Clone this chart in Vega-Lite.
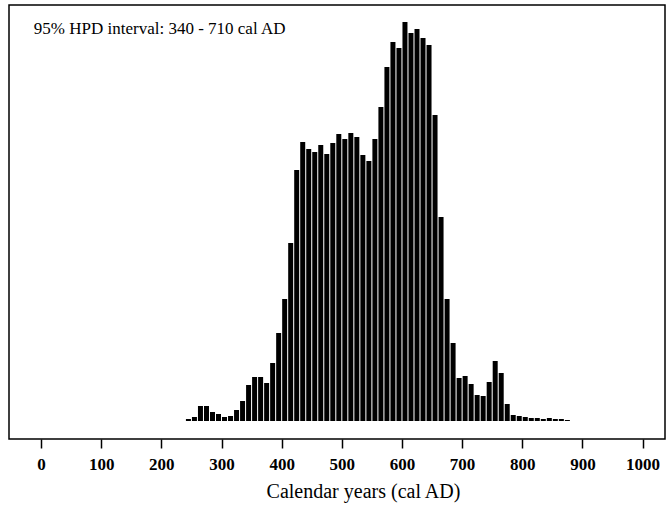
{
  "$schema": "https://vega.github.io/schema/vega-lite/v6.json",
  "width": 656,
  "height": 434,
  "autosize": "none",
  "padding": {"left": 9, "top": 5, "right": 6, "bottom": 72},
  "background": "white",
  "config": {
    "view": {"stroke": "black", "strokeWidth": 1.5},
    "font": "Liberation Serif"
  },
  "datasets": {
    "bins": [
      {"year": 245, "count": 2}, {"year": 255, "count": 4}, {"year": 265, "count": 15},
      {"year": 275, "count": 15}, {"year": 285, "count": 9}, {"year": 295, "count": 7},
      {"year": 305, "count": 4}, {"year": 315, "count": 5}, {"year": 325, "count": 11},
      {"year": 335, "count": 20}, {"year": 345, "count": 36}, {"year": 355, "count": 44},
      {"year": 365, "count": 44}, {"year": 375, "count": 38}, {"year": 385, "count": 58},
      {"year": 395, "count": 88}, {"year": 405, "count": 122}, {"year": 415, "count": 178},
      {"year": 425, "count": 251}, {"year": 435, "count": 279}, {"year": 445, "count": 272},
      {"year": 455, "count": 269}, {"year": 465, "count": 276}, {"year": 475, "count": 267},
      {"year": 485, "count": 278}, {"year": 495, "count": 287}, {"year": 505, "count": 282},
      {"year": 515, "count": 288}, {"year": 525, "count": 284}, {"year": 535, "count": 266},
      {"year": 545, "count": 260}, {"year": 555, "count": 282}, {"year": 565, "count": 314},
      {"year": 575, "count": 354}, {"year": 585, "count": 379}, {"year": 595, "count": 373},
      {"year": 605, "count": 399}, {"year": 615, "count": 388}, {"year": 625, "count": 392},
      {"year": 635, "count": 383}, {"year": 645, "count": 376}, {"year": 655, "count": 306},
      {"year": 665, "count": 204}, {"year": 675, "count": 122}, {"year": 685, "count": 78},
      {"year": 695, "count": 43}, {"year": 705, "count": 45}, {"year": 715, "count": 37},
      {"year": 725, "count": 26}, {"year": 735, "count": 25}, {"year": 745, "count": 39},
      {"year": 755, "count": 60}, {"year": 765, "count": 48}, {"year": 775, "count": 17},
      {"year": 785, "count": 6}, {"year": 795, "count": 5}, {"year": 805, "count": 4},
      {"year": 815, "count": 3}, {"year": 825, "count": 3}, {"year": 835, "count": 2},
      {"year": 845, "count": 3}, {"year": 855, "count": 2}, {"year": 865, "count": 2},
      {"year": 875, "count": 1}
    ],
    "note": [{"label": "95% HPD interval: 340 - 710 cal AD"}]
  },
  "layer": [
    {
      "data": {"name": "bins"},
      "mark": {"type": "bar", "size": 5, "color": "black"},
      "encoding": {
        "x": {
          "field": "year",
          "type": "quantitative",
          "scale": {"domain": [-45, 1029], "nice": false, "zero": false},
          "axis": {
            "values": [0, 100, 200, 300, 400, 500, 600, 700, 800, 900, 1000],
            "format": "d",
            "domain": false,
            "grid": false,
            "ticks": true,
            "tickSize": 9,
            "tickWidth": 1.5,
            "tickColor": "black",
            "labelColor": "black",
            "labelFontSize": 17,
            "labelFontWeight": "bold",
            "labelPadding": 8,
            "labelFlush": false,
            "labelOverlap": false,
            "title": "Calendar years (cal AD)",
            "titleColor": "black",
            "titleFontSize": 20,
            "titleFontWeight": "normal",
            "titlePadding": 9,
            "titleX": 354
          }
        },
        "y": {
          "field": "count",
          "type": "quantitative",
          "scale": {"domain": [-18, 416], "nice": false, "zero": false},
          "axis": null
        },
        "y2": {"datum": 0}
      }
    },
    {
      "data": {"name": "note"},
      "mark": {"type": "text", "align": "left", "baseline": "middle", "fontSize": 17, "color": "black", "font": "Liberation Serif"},
      "encoding": {
        "x": {"datum": -12, "type": "quantitative"},
        "y": {"datum": 392, "type": "quantitative"},
        "text": {"field": "label"}
      }
    }
  ]
}
